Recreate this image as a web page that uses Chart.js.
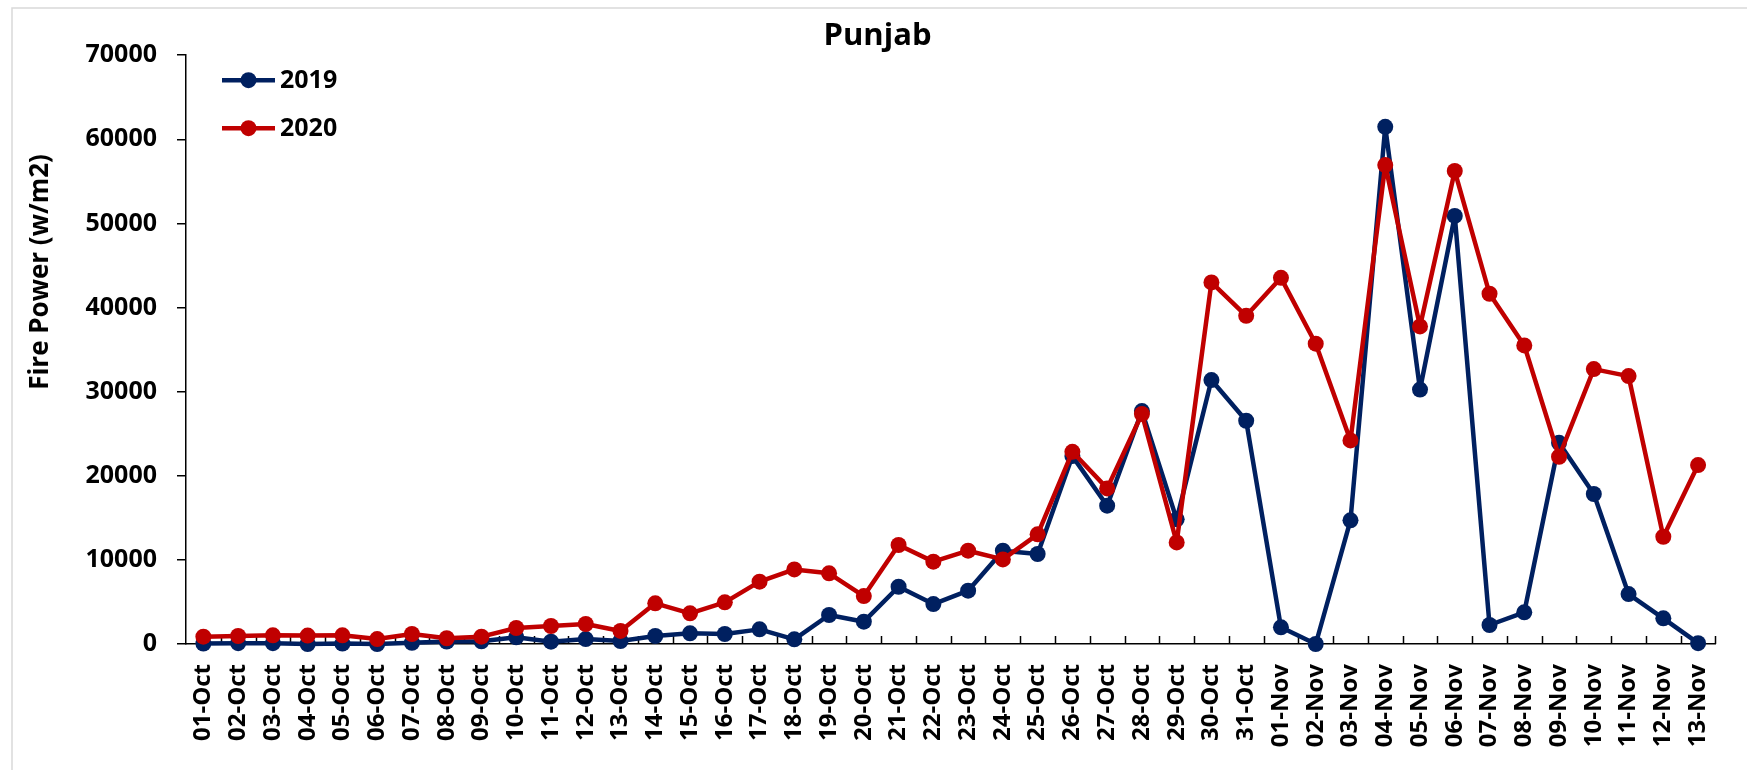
<!DOCTYPE html>
<html><head><meta charset="utf-8">
<script src="https://cdn.jsdelivr.net/npm/chart.js@4.4.1/dist/chart.umd.min.js"></script>
<style>html,body{margin:0;padding:0;background:#fff;overflow:hidden}#wrap{width:1747px;height:770px;position:relative}</style>
</head><body><div id="wrap"><canvas id="c" width="1747" height="770"></canvas></div>
<script>
const categories = ['01-Oct','02-Oct','03-Oct','04-Oct','05-Oct','06-Oct','07-Oct','08-Oct','09-Oct','10-Oct','11-Oct','12-Oct','13-Oct','14-Oct','15-Oct','16-Oct','17-Oct','18-Oct','19-Oct','20-Oct','21-Oct','22-Oct','23-Oct','24-Oct','25-Oct','26-Oct','27-Oct','28-Oct','29-Oct','30-Oct','31-Oct','01-Nov','02-Nov','03-Nov','04-Nov','05-Nov','06-Nov','07-Nov','08-Nov','09-Nov','10-Nov','11-Nov','12-Nov','13-Nov'];
const fire2019 = [50,100,100,0,50,0,150,300,320,800,280,590,360,950,1270,1190,1740,550,3450,2650,6810,4750,6340,11090,10700,22340,16440,27690,14820,31380,26540,1980,0,14700,61480,30250,50890,2260,3770,23920,17830,5940,3050,100];
const fire2020 = [870,950,1030,1000,1030,590,1190,680,870,1900,2140,2380,1550,4840,3650,4950,7410,8870,8400,5700,11770,9790,11090,10060,13040,22850,18500,27340,12080,42990,39020,43530,35700,24200,56940,37760,56230,41640,35500,22260,32680,31850,12750,21270];
const seriesNames = ['2019','2020'];
const chartTitle = 'Punjab';
const yAxisTitle = 'Fire Power (w/m2)';
const yMin = 0, yMax = 70000, yStep = 10000;

const FONT = "'Open Sans', 'Liberation Sans', sans-serif";
const BLUE = '#002060', RED = '#C00000';

const framePlugin = {
  id: 'frame',
  beforeDraw(chart) {
    const ctx = chart.ctx;
    ctx.save();
    ctx.fillStyle = '#fff';
    ctx.fillRect(0, 0, chart.width, chart.height);
    ctx.strokeStyle = '#d9d9d9';
    ctx.lineWidth = 1.5;
    ctx.beginPath();
    ctx.moveTo(12, chart.height); ctx.lineTo(12, 8); ctx.lineTo(chart.width, 8);
    ctx.stroke();
    ctx.restore();
  }
};

const innerTicksPlugin = {
  id: 'innerTicks',
  beforeDatasetsDraw(chart) {
    const s = chart.scales.x, ctx = chart.ctx;
    const n = categories.length;
    const step = (s.right - s.left) / n;
    ctx.save();
    ctx.strokeStyle = '#000';
    ctx.lineWidth = 1.5;
    ctx.beginPath();
    for (let i = 1; i <= n; i++) {
      const x = Math.round(s.left + i * step) + 0.5;
      ctx.moveTo(x, s.top);
      ctx.lineTo(x, s.top - 8);
    }
    ctx.stroke();
    ctx.restore();
  }
};

const extrasPlugin = {
  id: 'extras',
  afterDraw(chart) {
    const ctx = chart.ctx, a = chart.chartArea;
    ctx.save();
    ctx.translate(41, 272);
    ctx.rotate(-Math.PI / 2);
    ctx.fillStyle = '#000';
    ctx.font = 'bold 26px ' + FONT;
    ctx.textAlign = 'center';
    ctx.textBaseline = 'middle';
    ctx.fillText(yAxisTitle, 0, 0);
    ctx.restore();
    chart.data.datasets.forEach((ds, i) => {
      const y = a.top + 25 + i * 48;
      const x0 = a.left + 36, x1 = a.left + 89;
      ctx.save();
      ctx.strokeStyle = ds.borderColor;
      ctx.lineWidth = 4.5;
      ctx.beginPath(); ctx.moveTo(x0, y); ctx.lineTo(x1, y); ctx.stroke();
      ctx.fillStyle = ds.borderColor;
      ctx.beginPath(); ctx.arc((x0 + x1) / 2, y, 8, 0, Math.PI * 2); ctx.fill();
      ctx.fillStyle = '#000';
      ctx.font = 'bold 25px ' + FONT;
      ctx.textAlign = 'left';
      ctx.textBaseline = 'middle';
      ctx.fillText(ds.label, x1 + 5, y + 1);
      ctx.restore();
    });
  }
};

new Chart(document.getElementById('c'), {
  type: 'line',
  data: {
    labels: categories,
    datasets: [
      { label: seriesNames[0], data: fire2019, borderColor: BLUE, backgroundColor: BLUE,
        pointBackgroundColor: BLUE, pointBorderColor: BLUE, pointRadius: 8, pointBorderWidth: 0,
        borderWidth: 4.5, borderJoinStyle: 'round', tension: 0, clip: false, order: 1 },
      { label: seriesNames[1], data: fire2020, borderColor: RED, backgroundColor: RED,
        pointBackgroundColor: RED, pointBorderColor: RED, pointRadius: 8, pointBorderWidth: 0,
        borderWidth: 4.5, borderJoinStyle: 'round', tension: 0, clip: false, order: 0 }
    ]
  },
  options: {
    responsive: false,
    devicePixelRatio: 1,
    animation: false,
    layout: { padding: { left: 18, right: 10, top: 0, bottom: 0 } },
    plugins: {
      legend: { display: false },
      tooltip: { enabled: false },
      title: { display: true, text: chartTitle, color: '#000',
        font: { family: FONT, size: 31, weight: 'bold', lineHeight: 1.2 },
        padding: { top: 18, bottom: 0 } }
    },
    scales: {
      x: {
        offset: true,
        grid: { display: true, drawOnChartArea: false, drawTicks: false, offset: true },
        border: { display: true, color: '#000', width: 1.5 },
        ticks: { autoSkip: false, maxRotation: 90, minRotation: 90, padding: 20, color: '#000',
          font: { family: FONT, size: 24, weight: 'bold' } },
        afterFit(s) { s.height = 126; }
      },
      y: {
        min: yMin, max: yMax,
        grid: { display: true, drawOnChartArea: false, drawTicks: true, tickLength: 9, color: '#000', lineWidth: 1.5 },
        border: { display: true, color: '#000', width: 1.5 },
        ticks: { stepSize: yStep, padding: 20, color: '#000', callback: v => String(v),
          font: { family: FONT, size: 25, weight: 'bold' } },
        afterFit(s) { s.width = 168; }
      }
    }
  },
  plugins: [framePlugin, innerTicksPlugin, extrasPlugin]
});
</script></body></html>
